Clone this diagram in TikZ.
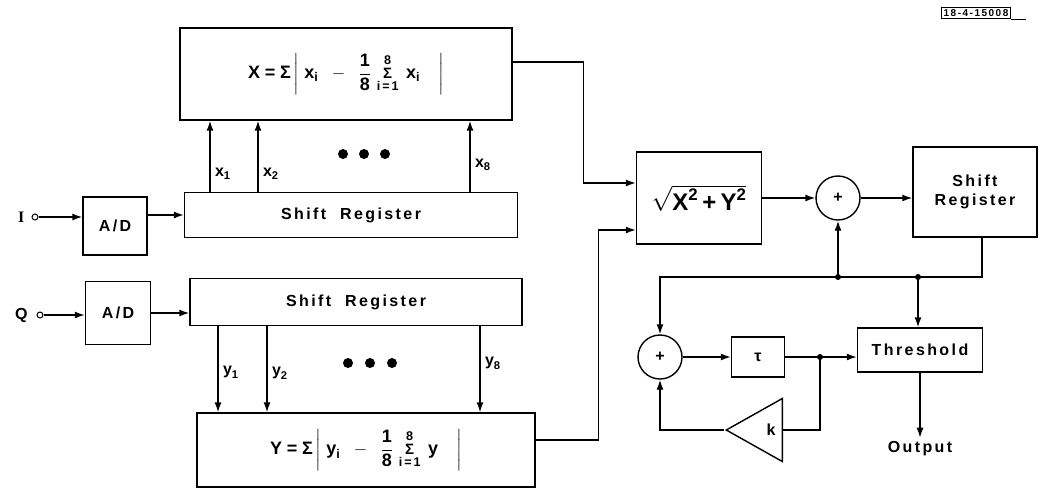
\documentclass[tikz,border=0pt]{standalone}
\usepackage{amsmath}
\usepackage{fontspec}
\setmainfont{Liberation Sans}[LetterSpace=15]
\newfontfamily\serifI{Liberation Serif}
\usetikzlibrary{shapes, positioning, arrows.meta}

\newcommand{\bsig}{\textbf{Σ}}
\newcommand{\ssig}{\mathop{\text{\fontsize{15}{17}\selectfont\bfseries Σ}}\limits}

\begin{document}
\begin{tikzpicture}[
          x=1pt, y=-1pt,
          line width=1.4pt,
          >={Latex[length=10pt,width=7pt]},
          font=\fontsize{16}{19}\selectfont\bfseries,
          blk/.style={draw, inner sep=0pt},
          big/.style={font=\fontsize{18}{21}\selectfont\bfseries},
          adder/.style={draw, circle, minimum size=44pt, inner sep=0pt},
          amp/.style={draw, isosceles triangle, shape border rotate=180,
            isosceles triangle stretches, minimum width=63pt, minimum height=56pt, inner sep=0pt},
          port/.style={draw, circle, inner sep=0pt, minimum size=6pt, line width=1pt}
        ]
        \useasboundingbox (0,0) rectangle (1049,499);

        \node[blk, big, minimum width=332pt, minimum height=92pt] (xsum) at (346,74)
          {$\textbf{X}\;\textbf{=}\;\bsig\left|\;\textbf{x}_{\textbf{i}}\;\;-\;\;\dfrac{\textbf{1}}{\textbf{8}}\,\ssig_{\textbf{i=1}}^{\textbf{8}}\;\textbf{x}_{\textbf{i}}\quad\right|$};
        \node[blk, minimum width=333pt, minimum height=45pt] (srI) at (351,215) {Shift\hspace{14pt}Register};
        \node[blk, minimum width=64pt, minimum height=58pt] (adI) at (115,226) {A/D};
        \node[blk, minimum width=65pt, minimum height=63pt] (adQ) at (118,313) {A/D};
        \node[blk, minimum width=332pt, minimum height=47pt] (srQ) at (356,302) {Shift\hspace{14pt}Register};
        \node[blk, big, minimum width=338pt, minimum height=74pt] (ysum) at (366,450)
          {$\textbf{Y}\;\textbf{=}\;\bsig\left|\;\textbf{y}_{\textbf{i}}\;\;-\;\;\dfrac{\textbf{1}}{\textbf{8}}\,\ssig_{\textbf{i=1}}^{\textbf{8}}\;\textbf{y}\quad\right|$};
        \node[blk, minimum width=125pt, minimum height=92pt, font=\fontsize{24}{28}\selectfont\bfseries] (sqrt) at (699,198)
          {$\sqrt{\textbf{X}^{\textbf{2}}\,\textbf{+}\,\textbf{Y}^{\textbf{2}}}$};
        \node[blk, minimum width=124pt, minimum height=90pt, align=center] (sr2) at (975,192) {Shift\\Register};
        \node[blk, minimum width=53pt, minimum height=40pt] (tau) at (758,357) {τ};
        \node[blk, minimum width=125pt, minimum height=44pt] (thr) at (920,350) {Threshold};
        \node[adder] (s1) at (838,198) {+};
        \node[adder] (s2) at (660,357) {+};
        \node[amp, anchor=east] (k) at (783,430) {\hspace{16pt}k};
        \node (out) at (920,449) {Output};

        \node[port] (inI) at (35,217) {};
        \node[port] (inQ) at (40,315) {};
        \node[left=3pt of inI, font=\fontsize{16}{19}\selectfont\serifI\bfseries] (lI) {I};
        \node[left=5pt of inQ] (lQ) {Q};

        \node[draw, line width=0.9pt, inner sep=2pt, font=\fontsize{10}{12}\selectfont\bfseries] (tag) at (976,13) {18-4-15008};
        \draw[line width=0.9pt] (tag.south east) -- ++(15,0);

        \draw[->] (inI) -- (inI -| adI.west);
        \draw[->] (adI.east |- srI.west) -- (srI.west);
        \draw[->] (inQ) -- (inQ -| adQ.west);
        \draw[->] (adQ.east) -- (adQ.east -| srQ.west);

        \foreach \xp/\nm/\ps in {210/1/0.25, 258/2/0.25, 470/8/0.38}
          \draw[->] (srI.north -| \xp,0) -- (xsum.south -| \xp,0)
            node[pos=\ps, right=1pt] {$\textbf{x}_{\textbf{\nm}}$};
        \foreach \xp/\nm/\ps in {218/1/0.53, 267/2/0.55, 480/8/0.43}
          \draw[->] (srQ.south -| \xp,0) -- (ysum.north -| \xp,0)
            node[pos=\ps, right=1pt] {$\textbf{y}_{\textbf{\nm}}$};
        \foreach \dx in {343,364,385} \fill (\dx,154) circle (5pt);
        \foreach \dx in {348,370,392} \fill (\dx,363) circle (5pt);

        \draw[->] ([yshift=12pt]xsum.east) -- ++(71,0) |- ([yshift=15pt]sqrt.west);
        \draw[->] ([yshift=10pt]ysum.east) -- ++(63,0) |- ([yshift=-32pt]sqrt.west);
        \draw[->] (sqrt.east |- s1) -- (s1);
        \draw[->] (s1) -- (s1 -| sr2.west);

        \coordinate (jA) at (838,277);
        \coordinate (jB) at (918,277);
        \coordinate (jC) at (820,357);
        \draw[->] ([xshift=7pt]sr2.south) |- (jA) -| (s2.north);
        \draw[->] (jA) -- (s1.south);
        \draw[->] (jB) -- (jB |- thr.north);
        \draw[->] (s2) -- (tau);
        \draw[->] (tau) -- (jC) -- (jC -| thr.west);
        \draw (jC) |- (k.east);
        \draw[->] (k.west) -| (s2.south);
        \draw[->] (thr.south -| out) -- (out);
        \foreach \j in {jA,jB,jC} \fill (\j) circle (3pt);

        \end{tikzpicture}
\end{document}
